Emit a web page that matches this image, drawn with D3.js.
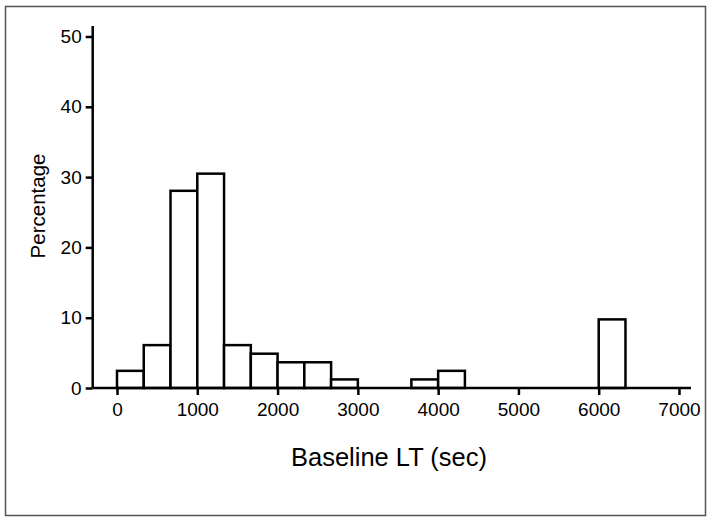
<!DOCTYPE html>
<html>
<head>
<meta charset="utf-8">
<script src="https://cdn.jsdelivr.net/npm/d3@7"></script>
<style>
  html, body { margin: 0; padding: 0; background: #fff; }
  svg { display: block; }
  text { font-family: "Liberation Sans", Arial, sans-serif; fill: #000; }
</style>
</head>
<body>
<svg id="chart" width="708" height="518"></svg>
<script>
// Histogram bins (seconds) and percentages
const binStart = [0, 333.33, 666.67, 1000, 1333.33, 1666.67, 2000, 2333.33, 2666.67, 3666.67, 4000, 6000];
const binEnd   = [333.33, 666.67, 1000, 1333.33, 1666.67, 2000, 2333.33, 2666.67, 3000, 4000, 4333.33, 6333.33];
const percent  = [2.44, 6.10, 28.05, 30.49, 6.10, 4.88, 3.66, 3.66, 1.22, 1.22, 2.44, 9.76];
const xTicks = [0, 1000, 2000, 3000, 4000, 5000, 6000, 7000];
const yTicks = [0, 10, 20, 30, 40, 50];
const xTitle = "Baseline LT (sec)";
const yTitle = "Percentage";

const svg = d3.select("#chart");

// outer frame
svg.append("rect")
  .attr("x", 5.5).attr("y", 6.5).attr("width", 700).attr("height", 509)
  .attr("fill", "#fff").attr("stroke", "#555").attr("stroke-width", 1.5);

const x = d3.scaleLinear().domain([0, 7000]).range([117, 679]);
const y = d3.scaleLinear().domain([0, 50]).range([388, 36.5]);
const axisX0 = 92.7, axisX1 = 691, axisYtop = 26;

// bars
const bins = binStart.map((s, i) => ({s, e: binEnd[i], v: percent[i]}));
svg.append("g").selectAll("rect").data(bins).join("rect")
  .attr("x", d => x(d.s))
  .attr("y", d => y(d.v))
  .attr("width", d => x(d.e) - x(d.s))
  .attr("height", d => y(0) - y(d.v))
  .attr("fill", "#fff")
  .attr("stroke", "#000")
  .attr("stroke-width", 2.5);

// x axis
const gx = svg.append("g").attr("transform", `translate(0,${y(0)})`)
  .call(d3.axisBottom(x).tickValues(xTicks).tickFormat(d3.format("d")).tickSize(7).tickPadding(8));
gx.select(".domain").attr("d", `M${axisX0},0H${axisX1}`).attr("stroke", "#000").attr("stroke-width", 2.5);
gx.selectAll(".tick line").attr("stroke", "#000").attr("stroke-width", 2.5);
gx.selectAll(".tick text").attr("font-size", 19);

// y axis
const gy = svg.append("g").attr("transform", `translate(${axisX0},0)`)
  .call(d3.axisLeft(y).tickValues(yTicks).tickFormat(d3.format("d")).tickSize(7).tickPadding(4));
gy.select(".domain").attr("d", `M0,${axisYtop}V${y(0)}`).attr("stroke", "#000").attr("stroke-width", 2.5);
gy.selectAll(".tick line").attr("stroke", "#000").attr("stroke-width", 2.5);
gy.selectAll(".tick text").attr("font-size", 19);

// titles
svg.append("text")
  .attr("x", 389).attr("y", 466)
  .attr("text-anchor", "middle")
  .attr("font-size", 25.5)
  .text(xTitle);

svg.append("text")
  .attr("transform", "translate(45,206) rotate(-90)")
  .attr("text-anchor", "middle")
  .attr("font-size", 20.5)
  .text(yTitle);
</script>
</body>
</html>
